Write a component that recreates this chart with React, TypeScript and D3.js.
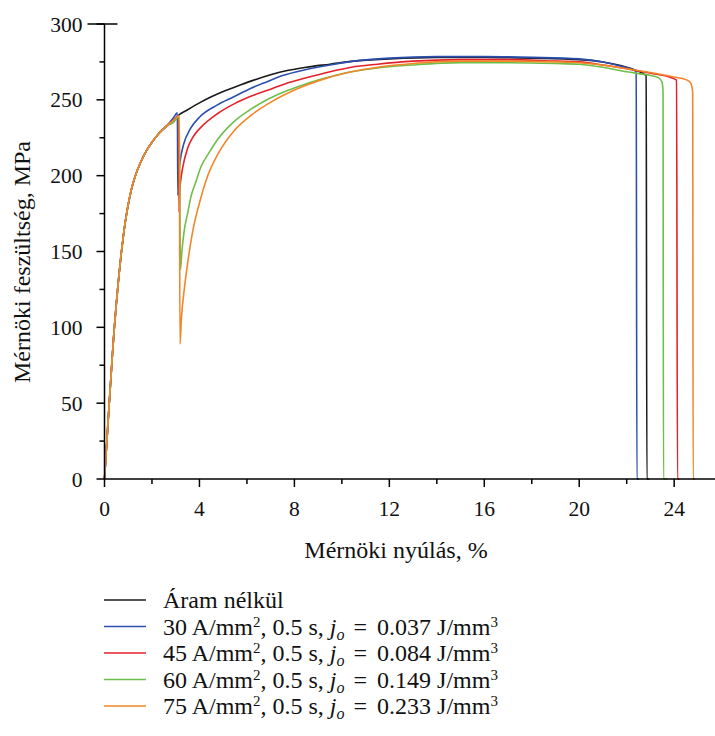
import * as d3 from 'd3'

// strain (%) / stress (MPa) pairs
const elastic = [
  [0, 0], [0.1, 25], [0.2, 50], [0.3, 74], [0.4, 97], [0.5, 116], [0.6, 133], [0.7, 148],
  [0.8, 161], [0.9, 172], [1.0, 181], [1.15, 192], [1.3, 200], [1.5, 208], [1.75, 216],
  [2.0, 222], [2.3, 228], [2.6, 232.5],
]

const aramNelkul = [
  [2.9, 236.5], [3.13, 240], [3.5, 243.5], [4, 248], [4.5, 252], [5, 255.5], [5.5, 258.5],
  [6.2, 262.5], [7, 266.5], [7.6, 269], [8.5, 271.5], [9.5, 273.5], [10.5, 275.5], [12, 277],
  [14, 278], [16, 278], [18, 277.5], [20, 276.5], [21, 275], [22, 271.5], [22.6, 268],
  [22.82, 266], [22.85, 0], [22.95, 0],
]

const a30 = [
  [2.9, 238], [3.07, 241.5], [3.09, 187], [3.12, 200], [3.2, 211], [3.34, 221], [3.62, 231],
  [4.03, 239], [4.74, 246.5], [5.45, 252], [6.15, 257.5], [6.85, 262], [7.5, 266], [8.5, 270],
  [9.5, 273], [10.5, 275.5], [12, 277.5], [14, 278.5], [16, 278.5], [18, 278], [20, 277],
  [21, 275], [21.8, 272], [22.3, 269.5], [22.4, 268.5], [22.43, 0], [22.52, 0],
]

const a45 = [
  [2.9, 236.5], [3.12, 239.5], [3.14, 176], [3.17, 190], [3.22, 198], [3.29, 205], [3.5, 218],
  [3.75, 226], [4.07, 232], [4.77, 241], [5.48, 247.5], [6.19, 252.5], [7, 257], [7.6, 260.5],
  [8.5, 264.5], [9.5, 268.5], [10.4, 271.5], [11.5, 273.5], [13, 275.5], [15, 276.5],
  [17, 276.5], [19, 275.5], [20, 275], [21, 273], [22, 270.5], [23, 267.5], [23.8, 265],
  [24.1, 263], [24.14, 0], [24.22, 0],
]

const a60 = [
  [2.9, 235], [3.15, 239], [3.2, 138], [3.26, 150], [3.36, 164], [3.5, 175], [3.64, 186],
  [3.85, 196], [4.07, 206], [4.4, 215], [4.77, 224], [5.48, 236], [6.19, 244], [6.9, 250.5],
  [7.6, 255.5], [8.3, 259.5], [9, 263], [10.4, 268.5], [11.5, 271], [13, 273], [15, 274.5],
  [17, 274.5], [19, 274], [20, 273.5], [21, 271.5], [22, 268.5], [23, 266], [23.35, 264.5],
  [23.48, 262], [23.53, 256], [23.55, 0], [23.72, 0],
]

const a75 = [
  [2.9, 236.5], [3.15, 239.5], [3.18, 89], [3.24, 106], [3.36, 125], [3.5, 142], [3.7, 162],
  [4.0, 182], [4.35, 200], [4.77, 214], [5.48, 230], [6.19, 240], [6.9, 247.5], [7.6, 253.5],
  [8.3, 258.5], [9, 262.5], [10.4, 268.5], [11.5, 271.5], [13, 274], [15, 275.5], [17, 275.5],
  [19, 275], [20, 274.5], [21, 273], [22, 270.5], [23, 268], [24, 265], [24.55, 263],
  [24.7, 261], [24.78, 255], [24.8, 0], [24.88, 0],
]

const colors = ['#1a1a1a', '#2c4fae', '#e4212b', '#6dbf4a', '#f4862a']
const currents = ['30', '45', '60', '75']
const energies = ['0.037', '0.084', '0.149', '0.233']
const xMajor = [0, 4, 8, 12, 16, 20, 24]
const xMinor = [2, 6, 10, 14, 18, 22]
const yMajor = [0, 50, 100, 150, 200, 250, 300]
const yMinor = [25, 75, 125, 175, 225, 275]

const curves = [aramNelkul, a30, a45, a60, a75].map((pts, i) => ({
  color: colors[i],
  points: elastic.concat(pts),
}))

const serif = { fontFamily: "'Times New Roman', 'Liberation Serif', 'DejaVu Serif'" }

export default function App() {
  const x = d3.scaleLinear().domain([0, 25.72]).range([104.5, 715])
  const y = d3.scaleLinear().domain([0, 300]).range([479, 24])
  const line = d3
    .line<number[]>()
    .x((d) => x(d[0]))
    .y((d) => y(d[1]))
    .curve(d3.curveMonotoneX)

  const x0 = x(0)
  const y0 = y(0)

  return (
    <svg width={715} height={736} style={{ position: 'absolute', left: 0, top: 0 }}>
      {curves.map((c, i) => (
        <path key={i} d={line(c.points) || ''} fill="none" stroke={c.color} strokeWidth={1.6} strokeLinejoin="round" />
      ))}

      {/* axes */}
      <g stroke="#000" strokeWidth={1.5}>
        <line x1={x0} x2={715} y1={y0} y2={y0} />
        <line x1={x0} x2={x0} y1={y(300)} y2={y0} />
        {xMajor.map((v) => (
          <line key={'xM' + v} x1={x(v)} x2={x(v)} y1={y0} y2={y0 + 8} />
        ))}
        {xMinor.map((v) => (
          <line key={'xm' + v} x1={x(v)} x2={x(v)} y1={y0} y2={y0 + 5} />
        ))}
        {yMajor.map((v) => (
          <line key={'yM' + v} x1={x0 - 8} x2={x0} y1={y(v)} y2={y(v)} />
        ))}
        {yMinor.map((v) => (
          <line key={'ym' + v} x1={x0 - 5} x2={x0} y1={y(v)} y2={y(v)} />
        ))}
        <line x1={x0 - 17} x2={x0 + 13} y1={y(300)} y2={y(300)} />
      </g>

      {xMajor.map((v) => (
        <text key={'xt' + v} x={x(v)} y={y0 + 37} textAnchor="middle" fontSize={21.5} fill="#111" style={serif}>
          {String(v)}
        </text>
      ))}
      {yMajor.map((v) => (
        <text key={'yt' + v} x={x0 - 22} y={y(v) + 7.5} textAnchor="end" fontSize={21.5} fill="#111" style={serif}>
          {String(v)}
        </text>
      ))}

      <text x={396} y={558} textAnchor="middle" fontSize={24} fill="#111" style={serif}>
        Mérnöki nyúlás, %
      </text>
      <text transform="translate(30,262) rotate(-90)" textAnchor="middle" fontSize={24} fill="#111" style={serif}>
        Mérnöki feszültség, MPa
      </text>

      {/* legend */}
      {colors.map((c, i) => {
        const ly = 600 + i * 26.5
        return (
          <g key={'lg' + i}>
            <line x1={104} x2={146} y1={ly} y2={ly} stroke={c} strokeWidth={1.6} />
            {i === 0 ? (
              <text x={163} y={ly + 8} fontSize={24} fill="#111" style={serif}>
                Áram nélkül
              </text>
            ) : (
              <text x={163} y={ly + 8} fontSize={24} fill="#111" style={serif}>
                <tspan>{`${currents[i - 1]} A/mm`}</tspan>
                <tspan dy={-8} fontSize={15}>2</tspan>
                <tspan dy={8}>{', 0.5 s, '}</tspan>
                <tspan fontStyle="italic">j</tspan>
                <tspan dy={5} fontSize={16} fontStyle="italic">o</tspan>
                <tspan dy={-5} dx={9}>=</tspan>
                <tspan dx={10}>{`${energies[i - 1]} J/mm`}</tspan>
                <tspan dy={-8} fontSize={15}>3</tspan>
              </text>
            )}
          </g>
        )
      })}
    </svg>
  )
}
